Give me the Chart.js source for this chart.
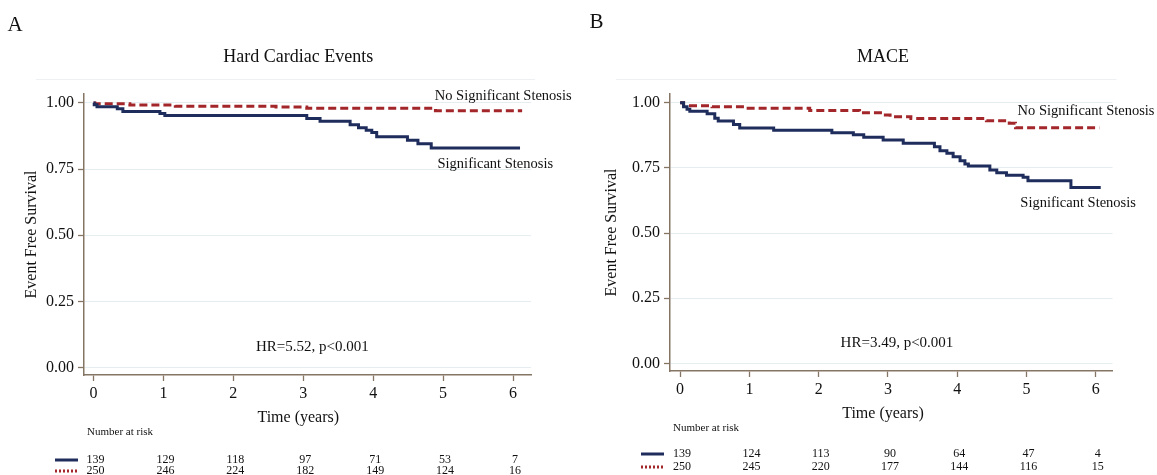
<!DOCTYPE html>
<html>
<head>
<meta charset="utf-8">
<title>Event free survival</title>
<script src="https://cdn.jsdelivr.net/npm/chart.js@4.4.1/dist/chart.umd.min.js"></script>
<style>
  html, body { margin: 0; padding: 0; background: #fff; }
  #wrap { position: relative; width: 1157px; height: 475px; overflow: hidden; }
  .panel { position: absolute; top: 0; height: 475px; }
  #panel-a { left: 0; width: 580px; }
  #panel-b { left: 580px; width: 577px; }
</style>
</head>
<body>
<div id="wrap">
  <div class="panel" id="panel-a"><canvas id="hard-chart"></canvas></div>
  <div class="panel" id="panel-b"><canvas id="mace-chart"></canvas></div>
</div>
<script>
// axis ticks
const timeTicks = [0, 1, 2, 3, 4, 5, 6];
const survTicks = [0, 0.25, 0.5, 0.75, 1];

// A - Hard Cardiac Events
const hardSigTime = [0, 0.01, 0.05, 0.34, 0.42, 0.95, 1.02, 3.05, 3.24, 3.67, 3.79, 3.90, 3.98, 4.05, 4.49, 4.64, 4.83, 6.10];
const hardSigSurv = [1, 0.993, 0.986, 0.978, 0.968, 0.960, 0.953, 0.941, 0.931, 0.918, 0.906, 0.897, 0.888, 0.872, 0.859, 0.846, 0.830, 0.830];
const hardNoTime = [0, 0.02, 0.52, 1.17, 2.61, 3.05, 4.89, 6.13];
const hardNoSurv = [1, 0.997, 0.992, 0.988, 0.985, 0.980, 0.971, 0.971];
const hardRiskSig = [139, 129, 118, 97, 71, 53, 7];
const hardRiskNo = [250, 246, 224, 182, 149, 124, 16];

// B - MACE
const maceSigTime = [0, 0.05, 0.10, 0.14, 0.39, 0.50, 0.55, 0.77, 0.86, 1.35, 2.19, 2.50, 2.65, 2.93, 3.22, 3.67, 3.75, 3.85, 3.94, 4.04, 4.11, 4.16, 4.47, 4.57, 4.71, 4.95, 5.02, 5.64, 6.07];
const maceSigSurv = [1, 0.984, 0.975, 0.967, 0.958, 0.940, 0.930, 0.916, 0.903, 0.894, 0.885, 0.877, 0.867, 0.857, 0.844, 0.831, 0.816, 0.806, 0.793, 0.777, 0.765, 0.757, 0.742, 0.731, 0.722, 0.714, 0.701, 0.675, 0.675];
const maceNoTime = [0, 0.05, 0.46, 0.95, 1.87, 2.59, 2.93, 3.03, 3.33, 4.42, 4.75, 4.84, 6.05];
const maceNoSurv = [1, 0.988, 0.984, 0.979, 0.970, 0.961, 0.953, 0.946, 0.939, 0.931, 0.921, 0.904, 0.904];
const maceRiskSig = [139, 124, 113, 90, 64, 47, 4];
const maceRiskNo = [250, 245, 220, 177, 144, 116, 15];

const serif = "'Liberation Serif', 'Times New Roman', serif";
const axisColor = '#857565';
const gridColor = '#e6edf1';
const navy = '#1f2d5c';
const darkRed = '#a3262a';

function toPoints(times, surv) {
    return times.map(function (t, i) { return { x: t, y: surv[i] }; });
}

////// text drawn around the plot (title, labels, number at risk) //////
const kmText = {
    id: 'kmText',
    afterDraw: function (chart, args, o) {
        const ctx = chart.ctx;
        const a = chart.chartArea;
        const x = chart.scales.x;
        const y = chart.scales.y;
        const mid = (x.getPixelForValue(0) + x.getPixelForValue(6)) / 2 - 5;

        ctx.save();
        ctx.fillStyle = '#111';
        ctx.textBaseline = 'middle';

        // panel letter
        ctx.textAlign = 'center';
        ctx.font = '21px ' + serif;
        ctx.fillText(o.letter, o.letterX, o.letterY);

        // title
        ctx.font = '18px ' + serif;
        ctx.fillText(o.title, mid, a.top - 37);

        // faint frame line above the plot
        ctx.strokeStyle = '#edf1f4';
        ctx.lineWidth = 1;
        ctx.beginPath();
        ctx.moveTo(36, a.top - 14.5);
        ctx.lineTo(a.right + 4, a.top - 14.5);
        ctx.stroke();

        // hazard ratio
        ctx.font = '15px ' + serif;
        ctx.fillText(o.hr, x.getPixelForValue(3) + 9, y.getPixelForValue(0) - 20);

        // curve labels
        ctx.textAlign = 'left';
        ctx.font = '14.5px ' + serif;
        o.labels.forEach(function (l) {
            ctx.fillText(l.text, x.getPixelForValue(l.t), y.getPixelForValue(l.s));
        });

        // x axis title
        ctx.textAlign = 'center';
        ctx.font = '16px ' + serif;
        ctx.fillText('Time (years)', mid, a.bottom + 43);

        // number at risk
        ctx.textAlign = 'left';
        ctx.font = '11px ' + serif;
        ctx.fillText('Number at risk', a.left + 3, a.bottom + 57);

        ctx.textAlign = 'center';
        ctx.font = '12px ' + serif;
        timeTicks.forEach(function (t, i) {
            const px = x.getPixelForValue(t) + 2;
            ctx.fillText(String(o.riskSig[i]), px, a.bottom + o.row1);
            ctx.fillText(String(o.riskNo[i]), px, a.bottom + o.row2);
        });

        ctx.lineWidth = 3;
        ctx.strokeStyle = navy;
        ctx.beginPath();
        ctx.moveTo(a.left - 29, a.bottom + o.row1);
        ctx.lineTo(a.left - 6, a.bottom + o.row1);
        ctx.stroke();
        ctx.strokeStyle = darkRed;
        ctx.setLineDash([2, 2]);
        ctx.beginPath();
        ctx.moveTo(a.left - 29, a.bottom + o.row2);
        ctx.lineTo(a.left - 6, a.bottom + o.row2);
        ctx.stroke();
        ctx.restore();
    }
};

function kmChart(canvasId, p) {
    const ctx = document.getElementById(canvasId);
    return new Chart(ctx, {
        type: 'line',
        data: {
            datasets: [{
                label: 'Significant Stenosis',
                data: toPoints(p.sigTime, p.sigSurv),
                borderColor: navy,
                borderWidth: 3,
                pointRadius: 0,
                stepped: true,
                fill: false
            }, {
                label: 'No Significant Stenosis',
                data: toPoints(p.noTime, p.noSurv),
                borderColor: darkRed,
                borderWidth: 3,
                borderDash: [8, 4],
                pointRadius: 0,
                stepped: true,
                fill: false
            }]
        },
        options: {
            responsive: true,
            maintainAspectRatio: false,
            animation: false,
            devicePixelRatio: 1,
            layout: { padding: { left: 0, top: 94, right: p.padRight, bottom: p.padBottom } },
            plugins: {
                legend: { display: false },
                tooltip: { enabled: false },
                kmText: p.text
            },
            scales: {
                x: {
                    type: 'linear',
                    min: p.xMin,
                    max: p.xMax,
                    afterBuildTicks: function (s) { s.ticks = timeTicks.map(function (v) { return { value: v }; }); },
                    afterFit: function (s) { s.height = 45; },
                    grid: { drawOnChartArea: false, tickLength: 6, tickColor: axisColor, tickWidth: 1.3 },
                    border: { color: axisColor, width: 1.5 },
                    ticks: { color: '#111', font: { family: serif, size: 16 }, padding: 3, maxRotation: 0 }
                },
                y: {
                    min: p.yMin,
                    max: p.yMax,
                    afterBuildTicks: function (s) { s.ticks = survTicks.map(function (v) { return { value: v }; }); },
                    afterFit: function (s) { s.width = p.yWidth; },
                    grid: { color: gridColor, lineWidth: 1, tickLength: 6, tickColor: axisColor, tickWidth: 1.3 },
                    border: { color: axisColor, width: 1.5 },
                    ticks: {
                        color: '#111', font: { family: serif, size: 16 }, padding: 4,
                        callback: function (v) { return v.toFixed(2); }
                    },
                    title: {
                        display: true, text: 'Event Free Survival', color: '#111',
                        font: { family: serif, size: 16 }, padding: { top: 22, bottom: 0 }
                    }
                }
            }
        },
        plugins: [kmText]
    });
}

////// Start Hard Cardiac Events Chart //////
kmChart('hard-chart', {
    sigTime: hardSigTime, sigSurv: hardSigSurv,
    noTime: hardNoTime, noSurv: hardNoSurv,
    xMin: -0.136, xMax: 6.257, yMin: -0.0284, yMax: 1.034,
    yWidth: 84, padRight: 49, padBottom: 55,
    text: {
        letter: 'A', letterX: 15, letterY: 25,
        title: 'Hard Cardiac Events',
        hr: 'HR=5.52, p<0.001',
        labels: [
            { text: 'No Significant Stenosis', t: 4.88, s: 1.024 },
            { text: 'Significant Stenosis', t: 4.92, s: 0.769 }
        ],
        riskSig: hardRiskSig, riskNo: hardRiskNo,
        row1: 85, row2: 96
    }
});
////// End Hard Cardiac Events Chart //////

////// Start MACE Chart //////
kmChart('mace-chart', {
    sigTime: maceSigTime, sigSurv: maceSigSurv,
    noTime: maceNoTime, noSurv: maceNoSurv,
    xMin: -0.146, xMax: 6.24, yMin: -0.0295, yMax: 1.0334,
    yWidth: 90, padRight: 44.5, padBottom: 59,
    text: {
        letter: 'B', letterX: 16.5, letterY: 22,
        title: 'MACE',
        hr: 'HR=3.49, p<0.001',
        labels: [
            { text: 'No Significant Stenosis', t: 4.87, s: 0.966 },
            { text: 'Significant Stenosis', t: 4.91, s: 0.616 }
        ],
        riskSig: maceRiskSig, riskNo: maceRiskNo,
        row1: 83, row2: 96
    }
});
////// End MACE Chart //////
</script>
</body>
</html>
